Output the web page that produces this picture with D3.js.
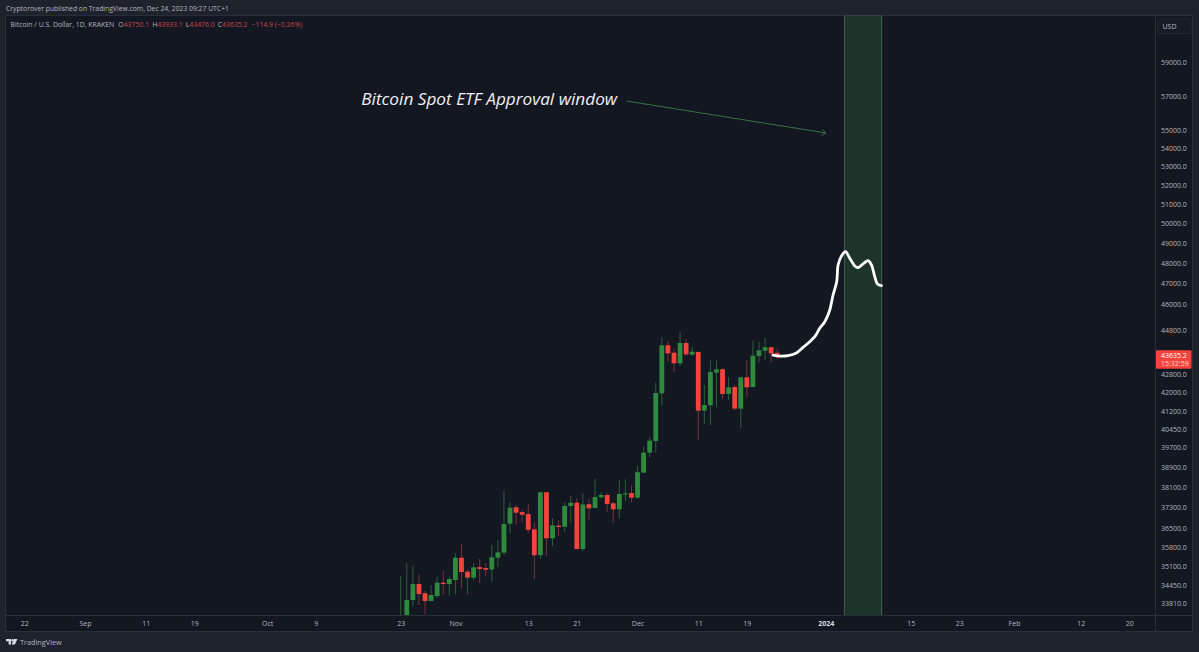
<!DOCTYPE html>
<html><head><meta charset="utf-8">
<script src="https://cdnjs.cloudflare.com/ajax/libs/d3/7.8.5/d3.min.js"></script>
<style>html,body{margin:0;padding:0;background:#1e222d;overflow:hidden}svg{display:block}text{font-family:"Open Sans",sans-serif}</style>
</head><body><svg id="c" width="1199" height="652"></svg>
<script>
const candleDates=["2023-10-23","2023-10-24","2023-10-25","2023-10-26","2023-10-27","2023-10-28","2023-10-29","2023-10-30","2023-10-31",
"2023-11-01","2023-11-02","2023-11-03","2023-11-04","2023-11-05","2023-11-06","2023-11-07","2023-11-08","2023-11-09","2023-11-10",
"2023-11-11","2023-11-12","2023-11-13","2023-11-14","2023-11-15","2023-11-16","2023-11-17","2023-11-18","2023-11-19","2023-11-20",
"2023-11-21","2023-11-22","2023-11-23","2023-11-24","2023-11-25","2023-11-26","2023-11-27","2023-11-28","2023-11-29","2023-11-30",
"2023-12-01","2023-12-02","2023-12-03","2023-12-04","2023-12-05","2023-12-06","2023-12-07","2023-12-08","2023-12-09","2023-12-10",
"2023-12-11","2023-12-12","2023-12-13","2023-12-14","2023-12-15","2023-12-16","2023-12-17","2023-12-18","2023-12-19","2023-12-20",
"2023-12-21","2023-12-22","2023-12-23","2023-12-24"];
const opens=[29990,33080,33915,34477,34150,33880,34055,34525,34477,
34621,35425,34920,34705,35085,35050,35000,35425,35610,36690,
37315,37130,37055,36475,35515,37895,36140,36615,36575,37365,
37490,35745,37430,37285,37700,37790,37465,37235,37820,37865,
37685,38670,39475,39950,41960,44090,43755,43280,44195,43665,
43790,41220,41450,42865,43015,41935,42235,41305,42660,42235,
43605,43845,44000,43750.1];
const highs=[34764,35223,35130,34825,34230,34440,34740,34945,34740,
35585,35928,34979,35223,35378,35223,35890,36077,37957,37505,
37400,37210,37440,36740,37905,37905,36890,36828,37505,37745,
37660,37855,37635,38415,37895,37855,37530,38378,38405,38170,
38945,39720,40105,42425,44455,44285,43955,44700,44365,44030,
43800,42325,43428,43400,43060,42660,42340,42690,43428,44300,
44240,44435,44030,43933.1];
const lows=[29900,32900,33705,33740,33415,33870,33970,34090,34055,
34120,34330,34120,34621,34505,34765,34560,35095,35525,36325,
36640,36740,36350,34655,35378,35490,35855,36235,36385,36705,
35730,35670,36855,37275,37620,37145,36705,36890,37550,37505,
37660,38645,39280,39475,41420,43350,42895,43160,43605,43605,
39992,40655,40615,41360,41705,41675,41220,40475,41790,42220,
43310,43428,43310,43476];
const closes=[33080,33915,34477,34120,33880,34090,34525,34477,34655,
35425,34907,34705,35075,35015,34990,35440,35620,36675,37300,
37105,37030,36460,35515,37895,36140,36630,36565,37365,37490,
35745,37420,37275,37710,37790,37440,37235,37830,37855,37685,
38685,39475,39965,41975,44090,43725,43280,44195,43680,43800,
41220,41460,42895,43015,41935,42220,41305,42660,42220,43620,
43860,44000,43725,43635.2];

const priceTicks=[59000,57000,55000,54000,53000,52000,51000,50000,49000,48000,47000,46000,44800,42800,42000,41200,40450,39700,38900,38100,37300,36500,35800,35100,34450,33810];
const dateTicks=["2023-08-22","2023-09-01","2023-09-11","2023-09-19","2023-10-01","2023-10-09","2023-10-23","2023-11-01","2023-11-13","2023-11-21","2023-12-01","2023-12-11","2023-12-19","2024-01-01","2024-01-15","2024-01-23","2024-02-01","2024-02-12","2024-02-20"];

// Hand-drawn projection: days after 1 Jan 2024 and price
const sketchDays=[-8.68,-7.58,-6.21,-4.83,-3.74,-2.64,-1.81,-0.99,-0.16,0.66,1.2,1.8,2.03,2.59,3.25,3.95,4.78,5.32,6.14,6.97,7.53,8.07,8.52,9.18];
const sketchPrices=[43650,43605,43625,43745,43995,44255,44480,44870,45175,45724,46435,47076,47893,48339,48553,48225,47844,47760,47943,48105,47893,47319,46965,46883];

const windowDates=["2024-01-04","2024-01-10"];
const arrowDates=["2023-11-29T05:00Z","2024-01-01T00:00Z"];
const arrowPrices=[56705,54868];
const noteDate="2023-10-16T12:00Z";
const notePrice=56473;
const noteText="Bitcoin Spot ETF Approval window";
const lastPrice=43635.2;
const countdown="15:32:59";
const publishLine="Cryptorover published on TradingView.com, Dec 24, 2023 09:27 UTC+1";
const symbolLine="Bitcoin / U.S. Dollar, 1D, KRAKEN";
const ohlcLabels=["O","H","L","C"];
const ohlcValues=["43750.1","43933.1","43476.0","43635.2"];
const changeText="−114.9 (−0.26%)";

const C={outer:"#1e222d",pane:"#131722",line:"#2a2e39",up:"#2e8b3e",down:"#f4433c",upW:"#2b6136",downW:"#7a3236",txt:"#b2b5be",legendRed:"#c8474b"};
const pd=s=>new Date(s.length===10?s+"T00:00:00Z":s);
const svg=d3.select("#c");
const P={l:5.5,r:1155.5,t:15.5,b:615.5,rr:1192.5,ab:631.5};

const x=d3.scaleUtc().domain([pd("2023-09-01"),pd("2024-02-01")]).range([85,1014]);
const y=d3.scaleLog().domain([33810,59000]).range([603,62.5]);

svg.append("rect").attr("width",1199).attr("height",652).attr("fill",C.outer);
svg.append("rect").attr("x",P.l).attr("y",P.t).attr("width",P.rr-P.l).attr("height",P.ab-P.t).attr("fill",C.pane).attr("stroke",C.line);
svg.append("defs").append("clipPath").attr("id","pane").append("rect").attr("x",P.l).attr("y",P.t).attr("width",P.r-P.l).attr("height",P.b-P.t);
const g=svg.append("g").attr("clip-path","url(#pane)");

// approval window
const wx0=x(pd(windowDates[0])),wx1=x(pd(windowDates[1]))+0.6;
g.append("rect").attr("x",wx0+0.5).attr("y",P.t).attr("width",wx1-wx0).attr("height",P.b-P.t)
 .attr("fill","#1d342a").attr("stroke","#3c5548").attr("stroke-width",1.2);

// candles
const cs=candleDates.map((d,i)=>({d:pd(d),o:opens[i],h:highs[i],l:lows[i],c:closes[i]}));
const cg=g.selectAll("g.k").data(cs).join("g").attr("class","k");
cg.append("line").attr("x1",d=>x(d.d)).attr("x2",d=>x(d.d)).attr("y1",d=>y(d.h)).attr("y2",d=>y(d.l))
 .attr("stroke",d=>d.c>=d.o?C.upW:C.downW).attr("stroke-width",1);
cg.append("rect").attr("x",d=>x(d.d)-2.4).attr("width",4.8)
 .attr("y",d=>y(Math.max(d.o,d.c))).attr("height",d=>Math.max(1.2,Math.abs(y(d.o)-y(d.c))))
 .attr("fill",d=>d.c>=d.o?C.up:C.down);

// sketch
const jan1=pd("2024-01-01").getTime();
const sk=sketchDays.map((v,i)=>[x(new Date(jan1+v*864e5)),y(sketchPrices[i])]);
g.append("path").attr("d",d3.line().curve(d3.curveCatmullRom.alpha(0.5))(sk)).attr("fill","none").attr("stroke","#fff").attr("stroke-width",2.8).attr("stroke-linecap","round").attr("stroke-linejoin","round");

// arrow
const ax0=x(pd(arrowDates[0])),ay0=y(arrowPrices[0]),ax1=x(pd(arrowDates[1])),ay1=y(arrowPrices[1]);
const ang=Math.atan2(ay1-ay0,ax1-ax0);
g.append("line").attr("x1",ax0).attr("y1",ay0).attr("x2",ax1).attr("y2",ay1).attr("stroke","#3f7a4c").attr("stroke-width",.9);
[-1,1].forEach(s=>g.append("line").attr("x1",ax1).attr("y1",ay1)
 .attr("x2",ax1-5*Math.cos(ang+s*.65)).attr("y2",ay1-5*Math.sin(ang+s*.65)).attr("stroke","#3f7a4c").attr("stroke-width",.9));

// note
g.append("text").attr("x",x(pd(noteDate))).attr("y",y(notePrice)).attr("fill","#eef0f3")
 .attr("font-size",17.2).attr("font-style","italic").text(noteText);

// axes
const xa=d3.axisBottom(x).tickValues(dateTicks.map(pd)).tickSize(0).tickPadding(0).tickFormat(d=>{
  if(d.getUTCDate()!==1)return d.getUTCDate();
  return d.getUTCMonth()===0?d.getUTCFullYear():d3.utcFormat("%b")(d);
});
const xg=svg.append("g").attr("transform",`translate(0,${P.b})`).call(xa);
xg.select(".domain").attr("stroke",C.line).attr("d",`M${P.l},0H${P.rr}`);
xg.selectAll("text").attr("y",7.8).attr("dy",".35em").attr("font-size",7).attr("fill",C.txt)
  .attr("font-weight",d=>d.getUTCDate()===1&&d.getUTCMonth()===0?700:400)
  .style("fill",d=>d.getUTCDate()===1&&d.getUTCMonth()===0?"#d8dae0":C.txt);

const ya=d3.axisRight(y).tickValues(priceTicks).tickSize(0).tickPadding(0).tickFormat(d3.format(".1f"));
const yg=svg.append("g").attr("transform",`translate(${P.r},0)`).call(ya);
yg.select(".domain").attr("stroke",C.line).attr("d",`M0,${P.t}V${P.ab}`);
yg.selectAll("text").attr("x",5.5).attr("font-size",7).attr("fill",C.txt);

// USD box
svg.append("rect").attr("x",1158).attr("y",19).attr("width",33).attr("height",14.5).attr("rx",2).attr("fill","#171b26").attr("stroke","#232733");
svg.append("text").attr("x",1162.5).attr("y",28.5).attr("font-size",7).attr("fill",C.txt).text("USD");

// last price
const ly=y(lastPrice);
svg.append("rect").attr("x",1156).attr("y",ly-5).attr("width",35.5).attr("height",18.5).attr("rx",1).attr("fill","#f4433c");
svg.append("text").attr("x",1161).attr("y",ly+2.5).attr("font-size",7).attr("fill","#fff").text(d3.format(".1f")(lastPrice));
svg.append("text").attr("x",1161).attr("y",ly+10.8).attr("font-size",7).attr("fill","#ffd9d6").text(countdown);

// header
svg.append("text").attr("x",6).attr("y",11).attr("font-size",6.8).attr("fill",C.txt).text(publishLine);
const lg=svg.append("text").attr("x",10.5).attr("y",27).attr("font-size",6.9);
lg.append("tspan").attr("fill",C.txt).text(symbolLine);
ohlcLabels.forEach((l,i)=>{
  lg.append("tspan").attr("fill",C.txt).attr("dx",i?3:4).text(l);
  lg.append("tspan").attr("fill",C.legendRed).text(ohlcValues[i]);
});
lg.append("tspan").attr("fill",C.legendRed).attr("dx",4).text(changeText);

// footer logo
const lo=svg.append("g").attr("transform","translate(6,639)").attr("fill","#d8dae0");
lo.append("path").attr("d","M0,0H5V5.5H2.6V2.2H0Z");
lo.append("circle").attr("cx",6.6).attr("cy",1.2).attr("r",1.2);
lo.append("path").attr("d","M8,0H11.5L8.8,5.5H5.6Z");
svg.append("text").attr("x",20).attr("y",645).attr("font-size",7.3).attr("fill",C.txt).text("TradingView");
</script></body></html>
